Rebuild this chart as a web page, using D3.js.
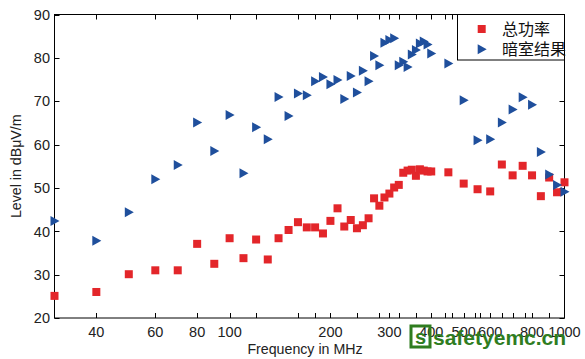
<!DOCTYPE html>
<html><head><meta charset="utf-8">
<script src="https://cdn.jsdelivr.net/npm/d3@7"></script>
<style>body{margin:0;background:#fff}svg{display:block}</style>
</head><body>
<svg id="c" width="585" height="359"></svg>
<script>
const seriesNames = ["总功率", "暗室结果"];
const freqTotal = [30,40,50,60,70,80,90,100,110,120,130,140,150,160,170,180,190,200,210,220,230,240,250,260,270,280,290,300,310,320,330,340,350,360,370,380,390,400,450,500,550,600,650,700,750,800,850,900,950,1000];
const levelTotal = [25.1,26.0,30.1,31.0,31.0,37.1,32.5,38.4,33.8,38.1,33.5,38.4,40.3,42.1,40.9,40.9,39.5,42.4,45.3,41.1,42.6,40.7,41.4,43.0,47.6,45.9,47.8,48.7,50.1,50.7,53.5,54.0,54.2,52.8,54.3,54.0,53.8,53.8,53.6,51.0,49.7,49.2,55.4,52.9,55.1,52.9,48.1,52.4,49.0,51.3];
const freqChamber = [30,40,50,60,70,80,90,100,110,120,130,140,150,160,170,180,190,200,210,220,230,240,250,260,270,280,290,300,310,320,330,340,350,360,370,380,390,400,450,500,550,600,650,700,750,800,850,900,950,1000];
const levelChamber = [42.4,37.8,44.4,52.0,55.3,65.1,58.5,66.8,53.4,64.0,61.2,71.0,66.6,71.8,71.4,74.6,75.6,73.9,74.9,70.5,75.8,72.0,77.0,74.6,80.4,78.3,83.5,84.1,84.5,78.3,79.1,77.9,80.8,81.8,83.3,83.8,83.1,81.0,78.7,70.2,61.0,61.2,65.1,68.1,70.9,69.2,58.3,53.1,50.7,49.1];
const xLabelTicks = [40,60,80,100,200,300,400,500,600,800,1000];
const xExtraTicks = [120,160,180,240,280,320,360,440,460,540,560,650,700,760,900];
const yTicks = [20,30,40,50,60,70,80,90];
const xTitle = "Frequency in MHz";
const yTitle = "Level in dBμV/m";

const svg = d3.select("#c");
const L = 54.5, R = 564.5, T = 14.5, B = 318;
const x = d3.scaleLog().domain([30,1000]).range([L,R]);
const y = d3.scaleLinear().domain([20,90]).range([B,T]);
const font = "'Liberation Sans', Arial, sans-serif";
const red = "#e3262a", blue = "#1f4f9c";

// ticks (inward on all sides)
const allX = xLabelTicks.concat(xExtraTicks).filter(v => v < 1000);
const tk = 5;
const g = svg.append("g").attr("stroke","#000").attr("stroke-width",1);
allX.forEach(v => {
  const px = Math.round(x(v)) + 0.5;
  g.append("line").attr("x1",px).attr("x2",px).attr("y1",B).attr("y2",B-tk);
  g.append("line").attr("x1",px).attr("x2",px).attr("y1",T).attr("y2",T+tk);
});
yTicks.forEach(v => {
  const py = Math.round(y(v)) + 0.5;
  g.append("line").attr("x1",L).attr("x2",L+tk).attr("y1",py).attr("y2",py);
  g.append("line").attr("x1",R).attr("x2",R-tk).attr("y1",py).attr("y2",py);
});
svg.append("rect").attr("x",L).attr("y",T).attr("width",R-L).attr("height",B-T)
  .attr("fill","none").attr("stroke","#000").attr("stroke-width",1);

// tick labels
svg.append("g").selectAll("text").data(yTicks).join("text")
  .attr("x",50).attr("y",d=>y(d)).attr("dy","0.36em").attr("text-anchor","end")
  .attr("font-family",font).attr("font-size",14.5).attr("fill","#222").text(d=>d);
svg.append("g").selectAll("text").data(xLabelTicks).join("text")
  .attr("x",d=>x(d)).attr("y",337).attr("text-anchor","middle")
  .attr("font-family",font).attr("font-size",14.5).attr("fill","#222").text(d=>d);

// titles
svg.append("text").attr("x",305).attr("y",354).attr("text-anchor","middle")
  .attr("font-family",font).attr("font-size",14.2).attr("fill","#222").text(xTitle);
svg.append("text").attr("transform","translate(21,"+((T+B)/2)+") rotate(-90)")
  .attr("text-anchor","middle").attr("font-family",font).attr("font-size",14.2)
  .attr("fill","#222").text(yTitle);

// markers
const sq = 8;
svg.append("g").selectAll("rect").data(d3.zip(freqTotal, levelTotal)).join("rect")
  .attr("x",d=>x(d[0])-sq/2).attr("y",d=>y(d[1])-sq/2).attr("width",sq).attr("height",sq)
  .attr("fill",red);
const tri = "M-4,-5L5,0L-4,5Z";
svg.append("g").selectAll("path").data(d3.zip(freqChamber, levelChamber)).join("path")
  .attr("d",tri).attr("transform",d=>"translate("+x(d[0])+","+y(d[1])+")").attr("fill",blue);

// legend
svg.append("rect").attr("x",457.5).attr("y",T).attr("width",R-457.5).attr("height",45.5)
  .attr("fill","#fff").attr("stroke","#000").attr("stroke-width",1);
svg.append("rect").attr("x",481.7-sq/2).attr("y",29-sq/2).attr("width",sq).attr("height",sq).attr("fill",red);
svg.append("path").attr("d",tri).attr("transform","translate(481.7,49.3)").attr("fill",blue);
const cjk = "'Noto Sans CJK SC', sans-serif";
svg.append("text").attr("x",502).attr("y",29).attr("dy","0.36em").attr("font-family",cjk)
  .attr("font-size",16).attr("fill","#111").text(seriesNames[0]);
svg.append("text").attr("x",502).attr("y",49.3).attr("dy","0.36em").attr("font-family",cjk)
  .attr("font-size",16).attr("fill","#111").text(seriesNames[1]);

// watermark
const wm = svg.append("g");
wm.append("rect").attr("x",411).attr("y",326).attr("width",19).attr("height",21)
  .attr("fill","none").attr("stroke","#2f7d1f").attr("stroke-width",3);
wm.append("text").attr("x",420.5).attr("y",344).attr("text-anchor","middle")
  .attr("font-family",font).attr("font-weight","bold").attr("font-size",20)
  .attr("fill","#2f7d1f").text("s");
wm.append("text").attr("x",433).attr("y",345).attr("font-family",font).attr("font-weight","bold")
  .attr("font-size",21).attr("fill","#2f7d1f").text("safetyemc.cn");
</script>
</body></html>
